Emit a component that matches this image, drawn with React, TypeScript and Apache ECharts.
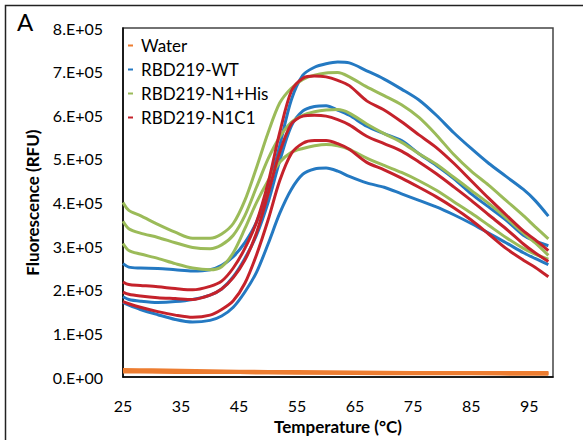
import React, { useEffect, useRef } from "react";
import * as echarts from "echarts";

// Temperature grid (°C) shared by the protein curves
const temps = [25, 26, 28, 31, 34, 37, 40, 42, 44, 46, 48, 50, 52, 54, 56, 58, 60, 62, 64, 67, 70, 73, 76, 79, 82, 85, 88, 91, 94, 96, 98.3];
// Fluorescence values in units of 1e5 RFU
const wt1 = [2.6, 2.52, 2.5, 2.49, 2.46, 2.43, 2.46, 2.56, 2.76, 3.08, 3.55, 4.3, 5.3, 6.35, 6.92, 7.1, 7.18, 7.22, 7.2, 7.02, 6.83, 6.6, 6.35, 6.0, 5.6, 5.24, 4.9, 4.6, 4.3, 4.05, 3.69];
const wt2 = [1.84, 1.78, 1.74, 1.71, 1.73, 1.78, 1.88, 2.02, 2.3, 2.72, 3.25, 4.0, 4.95, 5.75, 6.1, 6.2, 6.22, 6.12, 6.0, 5.75, 5.58, 5.42, 5.12, 4.85, 4.55, 4.2, 3.9, 3.6, 3.25, 3.12, 3.01];
const wt3 = [1.71, 1.65, 1.55, 1.43, 1.32, 1.26, 1.3, 1.4, 1.6, 1.95, 2.4, 3.05, 3.75, 4.3, 4.65, 4.77, 4.79, 4.72, 4.6, 4.45, 4.35, 4.2, 4.05, 3.9, 3.72, 3.52, 3.3, 3.08, 2.85, 2.72, 2.58];
const his1 = [4.0, 3.82, 3.7, 3.5, 3.32, 3.18, 3.18, 3.28, 3.52, 4.05, 4.8, 5.6, 6.28, 6.62, 6.82, 6.92, 6.97, 6.98, 6.88, 6.65, 6.45, 6.24, 5.95, 5.55, 5.1, 4.72, 4.4, 4.05, 3.7, 3.45, 3.17];
const his2 = [3.57, 3.4, 3.3, 3.2, 3.08, 2.97, 2.94, 3.03, 3.25, 3.7, 4.35, 5.0, 5.5, 5.84, 6.0, 6.08, 6.12, 6.13, 6.05, 5.8, 5.58, 5.38, 5.12, 4.88, 4.58, 4.28, 3.98, 3.65, 3.3, 3.08, 2.79];
const his3 = [3.06, 2.9, 2.82, 2.72, 2.6, 2.5, 2.46, 2.53, 2.85, 3.4, 4.0, 4.5, 4.92, 5.15, 5.24, 5.3, 5.33, 5.3, 5.22, 5.02, 4.85, 4.69, 4.5, 4.28, 4.02, 3.76, 3.48, 3.2, 2.95, 2.82, 2.7];
const c1a = [2.18, 2.12, 2.1, 2.07, 2.03, 2.0, 2.08, 2.2, 2.5, 2.95, 3.55, 4.45, 5.6, 6.55, 6.85, 6.9, 6.88, 6.8, 6.68, 6.33, 6.12, 5.85, 5.55, 5.26, 4.9, 4.5, 4.1, 3.72, 3.35, 3.15, 2.9];
const c1b = [1.95, 1.9, 1.86, 1.82, 1.8, 1.78, 1.88, 2.02, 2.28, 2.68, 3.3, 4.2, 5.15, 5.8, 5.98, 6.0, 5.98, 5.9, 5.78, 5.52, 5.35, 5.18, 4.93, 4.66, 4.36, 4.05, 3.72, 3.4, 3.05, 2.85, 2.65];
const c1c = [1.73, 1.68, 1.6, 1.5, 1.42, 1.37, 1.42, 1.55, 1.75, 2.15, 2.8, 3.6, 4.5, 5.12, 5.36, 5.42, 5.42, 5.35, 5.22, 4.92, 4.75, 4.56, 4.35, 4.13, 3.88, 3.6, 3.28, 2.95, 2.68, 2.52, 2.3];
// Water controls
const waterTemps = [25, 30, 35, 45, 55, 65, 75, 85, 95, 98.3];
const water1 = [0.17, 0.16, 0.15, 0.13, 0.12, 0.11, 0.1, 0.1, 0.09, 0.09];
const water2 = [0.14, 0.13, 0.12, 0.11, 0.1, 0.09, 0.08, 0.08, 0.07, 0.07];
const water3 = [0.12, 0.12, 0.11, 0.11, 0.1, 0.1, 0.1, 0.1, 0.1, 0.1];

const xTicks = [25, 35, 45, 55, 65, 75, 85, 95];
const names = ["Water", "RBD219-WT", "RBD219-N1+His", "RBD219-N1C1"];
const colors = ["#ed7d31", "#2479c2", "#9bbb59", "#c5222b"];

const FONT = "Lato, 'Open Sans', sans-serif";

function mk(name: string, color: string, t: number[], v: number[], width = 3) {
  return {
    type: "line",
    name,
    data: t.map((x, i) => [x, v[i] * 1e5]),
    symbol: "none",
    showSymbol: false,
    smooth: 0.3,
    lineStyle: { color, width },
    itemStyle: { color },
    silent: true,
  };
}

export default function App() {
  const ref = useRef<HTMLDivElement>(null);
  useEffect(() => {
    if (!ref.current) return;
    const chart = echarts.init(ref.current, undefined, { renderer: "svg" });
    const series = [
      mk(names[0], colors[0], waterTemps, water1, 3.5),
      mk(names[0], colors[0], waterTemps, water2, 3.5),
      mk(names[0], colors[0], waterTemps, water3, 3.5),
      mk(names[1], colors[1], temps, wt1),
      mk(names[1], colors[1], temps, wt2),
      mk(names[1], colors[1], temps, wt3),
      mk(names[2], colors[2], temps, his1),
      mk(names[2], colors[2], temps, his2),
      mk(names[2], colors[2], temps, his3),
      mk(names[3], colors[3], temps, c1a),
      mk(names[3], colors[3], temps, c1b),
      mk(names[3], colors[3], temps, c1c),
    ];
    chart.setOption({
      animation: false,
      backgroundColor: "#fff",
      textStyle: { fontFamily: FONT },
      grid: {
        left: 123,
        right: 30,
        top: 28,
        bottom: 56,
        show: true,
        borderColor: "#444",
        borderWidth: 1.5,
        backgroundColor: "transparent",
      },
      legend: {
        data: names,
        orient: "vertical",
        left: 128,
        top: 37,
        padding: 0,
        itemWidth: 5,
        itemHeight: 2,
        itemGap: 7,
        icon: "rect",
        selectedMode: false,
        textStyle: { fontSize: 17, color: "#000", fontFamily: FONT, padding: [0, 0, 0, 3] },
      },
      xAxis: {
        type: "value",
        min: 25,
        max: 99.1,
        name: "Temperature (°C)",
        nameLocation: "middle",
        nameGap: 34,
        nameTextStyle: { fontSize: 17, fontWeight: "bold", color: "#000", fontFamily: FONT },
        axisLine: { show: true, lineStyle: { color: "#000", width: 1.5 } },
        axisTick: { show: false },
        splitLine: { show: false },
        axisLabel: {
          customValues: xTicks,
          fontSize: 16,
          color: "#000",
          margin: 20,
          fontFamily: FONT,
        },
      },
      yAxis: {
        type: "value",
        min: 0,
        max: 800000,
        interval: 100000,
        name: "Fluorescence (RFU)",
        nameLocation: "middle",
        nameGap: 82,
        nameTextStyle: { fontSize: 17, fontWeight: "bold", color: "#000", fontFamily: FONT },
        axisLine: { show: true, lineStyle: { color: "#000", width: 1.5 } },
        axisTick: { show: false },
        splitLine: { show: false },
        axisLabel: {
          fontSize: 16,
          color: "#000",
          margin: 20,
          fontFamily: FONT,
          formatter: (v: number) => (v === 0 ? "0.E+00" : `${Math.round(v / 1e5)}.E+05`),
        },
      },
      graphic: [
        {
          type: "rect",
          shape: { x: 5.5, y: 5.5, width: 700, height: 600 },
          style: { fill: "none", stroke: "#222", lineWidth: 1.5 },
          silent: true,
        },
        {
          type: "text",
          x: 17,
          y: 21,
          style: {
            text: "A",
            fontSize: 24,
            fontFamily: FONT,
            fill: "#000",
            textVerticalAlign: "middle",
            verticalAlign: "middle",
          },
        },
      ],
      series,
    });
    return () => chart.dispose();
  }, []);
  return (
    <div
      ref={ref}
      style={{ position: "fixed", left: 0, top: 0, width: 583, height: 440, background: "#fff" }}
    />
  );
}
